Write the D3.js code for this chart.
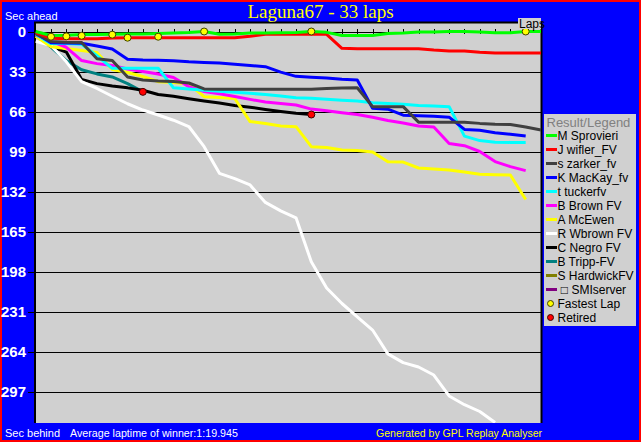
<!DOCTYPE html>
<html><head><meta charset="utf-8">
<script src="https://cdn.jsdelivr.net/npm/d3@7"></script>
<style>body{margin:0;background:#0000ff;} svg{display:block}</style>
</head><body>
<svg id="c" width="641" height="442"></svg>
<script>
// ---- data ----
const laps = [0,1,2,3,4,5,6,7,8,9,10,11,12,13,14,15,16,17,18,19,20,21,22,23,24,25,26,27,28,29,30,31,32,33];
const yTicks = [0,33,66,99,132,165,198,231,264,297];
const drivers = ["M Sprovieri","J wifler_FV","s zarker_fv","K MacKay_fv","t tuckerfv","B Brown FV","A McEwen","R Wbrown FV","C Negro FV","B Tripp-FV","S HardwickFV","\u00a0\u25a1 SMIserver"];
const colors = ["#00ff00","#ff0000","#404040","#0000ff","#00ffff","#ff00ff","#ffff00","#ffffff","#000000","#008080","#808000","#800080"];
const sprovieri = [0,3.3,3.1,2.5,2.5,2.3,2.0,2.0,1.6,1.2,0.8,0,2.3,2.0,1.3,1.2,1.0,0.8,0,0.7,3.3,3.3,3.3,1.6,1.2,0.5,0.4,0,0,0.5,1.0,1.0,0,0];
const wifler = [1,5.6,5.9,5.9,5.9,5.3,5.1,5.1,5.1,5.1,5.1,5.1,5.1,5.1,4.0,2.3,2.3,2.3,2.3,2.3,13.9,14.2,14.2,14.2,14.2,14.2,15.3,16.1,16.1,17.2,17.7,17.7,17.7,17.7];
const zarker = [2,8.2,8.9,9.0,22.5,24,37.5,40,40.8,41.3,42.5,47.4,47.7,47.7,47.7,47.7,47.7,47.7,47.7,47.0,46.7,46.4,62,62,62,74.8,74.8,74.8,74.8,75.8,76.5,76.7,78.8,81.3];
const mackay = [1.5,9.2,9.5,9.7,12,14.5,22.9,23.5,23.7,24.1,25,25.5,26,27,28,29,33.5,37,37.7,38.3,39.3,40,63.3,64.1,69,69.5,70,70.7,80.8,81.4,83.5,84.8,86.3];
const tucker = [2.5,10,10,10.5,20,30.4,30.3,30.3,30.3,46.5,47.5,48.5,49.3,50.2,51,52,53.3,54.6,55.1,55.9,56.7,57.3,58.7,59.4,60,61,61.5,62,86.3,90,91.3,91.5,91.5];
const brown = [3,8,13,24,26.5,28,31,33,35,38,45.5,49.5,51.3,53.6,56,58.2,59.4,60.6,64,65.3,67,68.5,70.8,73.4,75.5,78,78.8,92.4,94.2,99,107.3,111.5,114.8];
const mcewen = [4,12.5,14,15.7,17.3,31.4,33.8,37.1,41.4,42,43.3,53.8,54.5,55.3,74.3,75.9,78,78.5,95,95.7,97.8,98.2,99.4,107.4,107.7,112.6,113.4,114.3,115.9,117.8,118.1,118.4,138.6];
const wbrown = [8,11.5,25,41.4,47,53.4,59.6,64.8,68.9,73.2,78.4,95,117,121.4,126.6,141,148,153.7,190,211.6,224.4,235.5,246.3,266,273.2,276.8,283.4,300.7,307.9,313.5,322.6];
const negro = [3,12.5,17,39.5,43,45,46.5,48.5,52,53.5,55.5,57.3,59,61,62.5,64.3,66,67.5,68.5];
const tripp = [3,12.8,24,31.5,35,37.5,43,49.8];
const hardwick = [];
const smiserver = [];
const series = [sprovieri,wifler,zarker,mackay,tucker,brown,mcewen,wbrown,negro,tripp,hardwick,smiserver];
const fastestLapLaps = [1,2,3,5,6,8,11,18,32];
const fastestLapSecs = [4.3,4.0,3.5,2.6,5.1,4.3,0,0,0];
const retiredDrivers = [9,8];

// ---- layout ----
const W = 641, H = 442;
const plot = {x0:34, x1:542, y0:22, y1:423};
const svg = d3.select("#c");
const x = d3.scaleLinear().domain([0,33]).range([35.7,541]);
const y = d3.scaleLinear().domain([0,297]).range([31.5,391.5]);

svg.append("rect").attr("x",1).attr("y",1).attr("width",W-2).attr("height",H-2)
  .attr("fill","#0000ff").attr("stroke","#ff0000").attr("stroke-width",2);

svg.append("rect").attr("x",plot.x0).attr("y",plot.y0).attr("width",plot.x1-plot.x0).attr("height",plot.y1-plot.y0)
  .attr("fill","#d0d0d0");

svg.append("defs").append("clipPath").attr("id","clip").append("rect")
  .attr("x",plot.x0).attr("y",plot.y0).attr("width",plot.x1-plot.x0).attr("height",plot.y1-plot.y0);

// y axis with gridlines
const yAxis = svg.append("g").attr("transform","translate(28,0)")
  .call(d3.axisLeft(y).tickValues(yTicks).tickSize(-(plot.x1-28)).tickPadding(2));
yAxis.select(".domain").remove();
yAxis.selectAll(".tick line").attr("stroke","#000").attr("stroke-width",1).attr("shape-rendering","crispEdges");
yAxis.selectAll(".tick text").attr("fill","#fff")
  .style("font-family","'Liberation Sans Narrow','Arial Narrow','Liberation Sans',sans-serif")
  .style("font-weight","bold").style("font-size","15px");

// plot border
svg.append("path").attr("d",`M${plot.x0+1},${plot.y1}V${plot.y0+0.5}H${plot.x1-0.5}V${plot.y1}`)
  .attr("fill","none").attr("stroke","#000").attr("stroke-width",2);

// x ticks on zero line
const xAxis = svg.append("g").attr("transform","translate(0,28.5)")
  .call(d3.axisBottom(x).tickValues(laps.slice(1,33)).tickSize(5).tickFormat(""));
xAxis.select(".domain").remove();
xAxis.selectAll(".tick line").attr("stroke","#000").attr("shape-rendering","crispEdges");

// lines
const line = d3.line().x((d,i)=>x(laps[i])).y(d=>y(d));
const lg = svg.append("g").attr("clip-path","url(#clip)");
for (let k = series.length-1; k >= 0; k--) {
  if (series[k].length < 2) continue;
  lg.append("path").datum(series[k]).attr("d",line)
    .attr("fill","none").attr("stroke",colors[k]).attr("stroke-width",3)
    .attr("stroke-linejoin","round");
}

// fastest lap markers
svg.append("g").selectAll("circle").data(fastestLapLaps).join("circle")
  .attr("cx",(d)=>x(d)).attr("cy",(d,i)=>y(fastestLapSecs[i])).attr("r",3.5)
  .attr("fill","#ffff00").attr("stroke","#404000").attr("stroke-width",1);

// retired markers
svg.append("g").selectAll("circle").data(retiredDrivers).join("circle")
  .attr("cx",(d)=>x(laps[series[d].length-1])).attr("cy",(d)=>y(series[d][series[d].length-1])).attr("r",3.5)
  .attr("fill","#ff0000").attr("stroke","#400000").attr("stroke-width",1);

// Laps label
svg.append("rect").attr("x",518).attr("y",18).attr("width",23).attr("height",11).attr("fill","#d0d0d0");
svg.append("text").attr("x",519).attr("y",28).text("Laps")
  .style("font-family","'Liberation Sans',sans-serif").style("font-size","12px").attr("fill","#000");

// texts
const sans = "'Liberation Sans',Arial,sans-serif";
svg.append("text").attr("x",320.5).attr("y",18).attr("text-anchor","middle").text("Laguna67 - 33 laps")
  .style("font-family","'Liberation Serif','Times New Roman',serif").style("font-size","19px").attr("fill","#ffff00");
svg.append("text").attr("x",5).attr("y",20).text("Sec ahead").style("font-family",sans).style("font-size","11px").attr("fill","#fff");
svg.append("text").attr("x",5).attr("y",437).text("Sec behind").style("font-family",sans).style("font-size","11px").attr("fill","#fff");
svg.append("text").attr("x",70).attr("y",437).text("Average laptime of winner:1:19.945").style("font-family",sans).style("font-size","10.7px").attr("fill","#fff");
svg.append("text").attr("x",542).attr("y",437).attr("text-anchor","end").text("Generated by GPL Replay Analyser").style("font-family",sans).style("font-size","10.5px").attr("fill","#ffff00");

// legend
const leg = svg.append("g");
leg.append("rect").attr("x",544).attr("y",114).attr("width",92).attr("height",212).attr("fill","#d0d0d0");
leg.append("text").attr("x",546.5).attr("y",127).text("Result/Legend").style("font-family",sans).style("font-size","13px").attr("fill","#808080");
drivers.forEach((nm,i)=>{
  const cy = 135.5 + i*14;
  leg.append("line").attr("x1",546).attr("x2",557).attr("y1",cy).attr("y2",cy).attr("stroke",colors[i]).attr("stroke-width",3);
  leg.append("text").attr("x",557.5).attr("y",cy+4.5).text(nm).style("font-family",sans).style("font-size","12px").attr("fill","#000");
});
const extra = [["Fastest Lap","#ffff00","#404000"],["Retired","#ff0000","#400000"]];
extra.forEach((e,j)=>{
  const cy = 135.5 + (drivers.length+j)*14;
  leg.append("circle").attr("cx",550.5).attr("cy",cy).attr("r",3).attr("fill",e[1]).attr("stroke",e[2]);
  leg.append("text").attr("x",557.5).attr("y",cy+4.5).text(e[0]).style("font-family",sans).style("font-size","12px").attr("fill","#000");
});
</script>
</body></html>
